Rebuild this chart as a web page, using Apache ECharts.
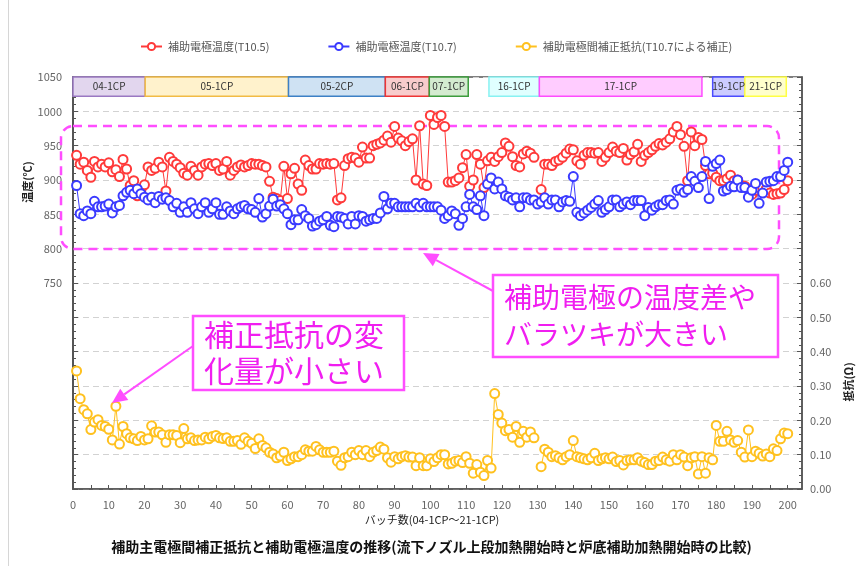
<!DOCTYPE html>
<html>
<head>
<meta charset="utf-8">
<script src="https://cdn.jsdelivr.net/npm/echarts@6/dist/echarts.min.js"></script>
<style>
html,body{margin:0;padding:0;background:#fff;}
#chart{width:863px;height:566px;}
</style>
</head>
<body>
<div id="chart"></div>
<script>
// Series names
const seriesNames = ['補助電極温度(T10.5)', '補助電極温度(T10.7)', '補助電極間補正抵抗(T10.7による補正)'];

// 補助電極温度 T10.5 (℃), batches 1..200
const tempT105 = [
  936, 923, 926, 914, 904, 927, 919, 923, 919, 925,
  912, 915, 905, 930, 916, 892, 899, 877, 885, 893,
  919, 914, 917, 926, 919, 884, 933, 927, 923, 918,
  910, 907, 920, 914, 907, 919, 923, 924, 921, 924,
  914, 916, 927, 907, 914, 919, 922, 919, 921, 924,
  923, 923, 921, 919, 898, 875, 873, 870, 920, 873,
  909, 917, 894, 885, 929, 921, 916, 916, 924, 923,
  924, 923, 924, 871, 874, 921, 931, 933, 932, 926,
  948, 932, 932, 950, 952, 954, 958, 964, 955, 978,
  961, 957, 950, 956, 960, 900, 979, 894, 892, 994,
  981, 991, 994, 978, 897, 897, 899, 903, 918, 937,
  891, 900, 937, 923, 889, 928, 933, 927, 934, 940,
  954, 949, 934, 921, 919, 938, 942, 939, 933, null,
  886, 923, 923, 921, 927, 929, 933, 939, 945, 944,
  928, 923, 936, 940, 940, 939, 940, 927, 933, 940,
  948, 942, 940, 946, 929, 937, 941, 952, 927, 936,
  940, 944, 949, 953, 951, 955, 960, 970, 978, 966,
  949, 899, 970, 950, 962, 959, 921, 909, 910, 904,
  899, 899, 902, 907, 899, 900, 892, 891, 887, 879,
  885, 889, 889, 887, 881, 879, 880, 881, 886, 899
];

// 補助電極温度 T10.7 (℃), batches 1..200
const tempT107 = [
  892, 851, 848, 855, 851, 869, 861, 861, 862, 865,
  852, 861, 863, 877, 882, 885, 880, 887, 880, 875,
  871, 875, 867, 876, 872, 874, 870, 861, 866, 853,
  861, 853, 867, 858, 851, 861, 867, 853, 858, 867,
  850, 850, 861, 855, 851, 858, 861, 863, 858, 857,
  853, 873, 846, 851, 862, 872, 862, 864, 858, 851,
  835, 842, 842, 857, 848, 844, 833, 835, 840, 842,
  847, 834, 832, 847, 846, 844, 836, 847, 836, 848,
  847, 840, 842, 844, 844, 852, 876, 858, 866, 866,
  861, 861, 861, 861, 861, 866, 861, 866, 861, 861,
  861, 861, 856, 844, 848, 855, 851, 834, 844, 861,
  879, 861, 857, 877, 848, 894, 903, 887, 897, 887,
  877, 875, 871, 874, 861, 874, 874, 871, 871, 865,
  868, 874, 865, 871, 871, 861, 868, 870, 869, 905,
  853, 848, 852, 856, 860, 865, 870, 853, 857, 861,
  871, 871, 861, 865, 868, 864, 870, 870, 870, 848,
  860, 856, 861, 864, 864, 870, 871, 865, 885, 887,
  882, 886, 905, 898, 889, 905, 927, 873, 920, 924,
  929, 884, 886, 891, 890, 900, 889, 889, 875, 885,
  895, 866, 881, 897, 898, 899, 905, 905, 914, 926
];

// 補助電極間補正抵抗 (Ω), batches 1..200
const resistance = [
  0.344, 0.263, 0.231, 0.219, 0.173, 0.195, 0.202, 0.185, 0.182, 0.174,
  0.143, 0.241, 0.131, 0.182, 0.161, 0.149, 0.146, 0.141, 0.153, 0.143,
  0.146, 0.184, 0.166, 0.166, 0.158, 0.136, 0.158, 0.158, 0.156, 0.135,
  0.176, 0.146, 0.149, 0.141, 0.143, 0.143, 0.151, 0.146, 0.153, 0.156,
  0.149, 0.147, 0.149, 0.139, 0.139, 0.141, 0.130, 0.149, 0.139, 0.133,
  0.118, 0.146, 0.127, 0.120, 0.107, 0.102, 0.091, 0.096, 0.107, 0.083,
  0.088, 0.094, 0.094, 0.100, 0.114, 0.110, 0.110, 0.124, 0.114, 0.107,
  0.107, 0.107, 0.110, 0.081, 0.069, 0.091, 0.094, 0.107, 0.100, 0.112,
  0.100, 0.112, 0.094, 0.107, 0.112, 0.122, 0.116, 0.091, 0.078, 0.094,
  0.088, 0.094, 0.097, 0.093, 0.093, 0.068, 0.091, 0.068, 0.068, 0.088,
  0.080, 0.091, 0.100, 0.100, 0.073, 0.075, 0.081, 0.083, 0.077, 0.094,
  0.075, 0.046, 0.071, 0.049, 0.039, 0.083, 0.061, 0.278, 0.217, 0.192,
  0.170, 0.173, 0.151, 0.182, 0.136, 0.168, 0.151, 0.166, 0.149, null,
  0.065, 0.116, 0.107, 0.094, 0.097, 0.091, 0.085, 0.094, 0.100, 0.141,
  0.094, 0.091, 0.088, 0.085, 0.091, 0.104, 0.083, 0.088, 0.091, 0.088,
  0.093, 0.080, 0.083, 0.070, 0.083, 0.085, 0.085, 0.091, 0.081, 0.077,
  0.071, 0.071, 0.081, 0.083, 0.093, 0.085, 0.081, 0.100, 0.085, 0.100,
  0.093, 0.068, 0.091, 0.094, 0.044, 0.094, 0.046, 0.091, 0.085, 0.185,
  0.139, 0.139, 0.168, 0.143, 0.136, 0.141, 0.107, 0.093, 0.172, 0.094,
  0.110, 0.104, 0.096, 0.102, 0.094, 0.117, 0.112, 0.146, 0.163, 0.161
];

// Campaign bands along the top of the plot (batch ranges)
const bandNames = ['04-1CP', '05-1CP', '05-2CP', '06-1CP', '07-1CP', '16-1CP', '17-1CP', '19-1CP', '21-1CP'];
const bandStart = [0, 20.2, 60.3, 87.4, 99.7, 116.4, 130.5, 179, 188];
const bandEnd   = [20.2, 60.3, 87.4, 99.7, 110.6, 130.5, 176, 188, 199.6];

// Axis tick labels
const tempTicks = [750, 800, 850, 900, 950, 1000, 1050];
const resTicks = [0.0, 0.1, 0.2, 0.3, 0.4, 0.5, 0.6];
const batchTicks = [0, 10, 20, 30, 40, 50, 60, 70, 80, 90, 100, 110, 120, 130, 140, 150, 160, 170, 180, 190, 200];

// ---- styling ----
const FONT = '"Noto Sans CJK JP", "Noto Sans", sans-serif';
const seriesColors = ['#ff3a3a', '#3a3aff', '#ffc11f'];
const bandFill   = ['#e2d6ee', '#fff2cc', '#cfe2f3', '#f8cccc', '#d4ebd0', '#e0ffff', '#ffccff', '#ccccff', '#ffffcc'];
const bandBorder = ['#9a78c2', '#f2bb45', '#3d80c6', '#ee3434', '#3c9c3c', '#88f2f2', '#ff4cff', '#4c4cff', '#ffff44'];
const MAGENTA = '#ff4dff';
const MAGENTA_TEXT = '#f01ef0';

const toPairs = arr => arr.map((v, i) => [i + 1, v === null ? '-' : v]);

const bandAreas = bandNames.map((name, i) => [
  { name: name, xAxis: bandStart[i], yAxis: 1022,
    itemStyle: { color: bandFill[i], borderColor: bandBorder[i], borderWidth: 1.5 } },
  { xAxis: bandEnd[i], yAxis: 1050 }
]);

function arrow(x1, y1, x2, y2) {
  const ang = Math.atan2(y2 - y1, x2 - x1);
  const L = 15, W = 7;
  const bx = x2 - L * Math.cos(ang), by = y2 - L * Math.sin(ang);
  const px = -Math.sin(ang) * W, py = Math.cos(ang) * W;
  return [
    { type: 'line', shape: { x1: x1, y1: y1, x2: bx, y2: by },
      style: { stroke: MAGENTA, lineWidth: 2 }, z: 110 },
    { type: 'polygon', shape: { points: [[x2, y2], [bx + px, by + py], [bx - px, by - py]] },
      style: { fill: MAGENTA }, z: 110 }
  ];
}

const chart = echarts.init(document.getElementById('chart'), null, { renderer: 'canvas' });

const option = {
  animation: false,
  backgroundColor: '#fff',
  textStyle: { fontFamily: FONT },
  title: {
    text: '補助主電極間補正抵抗と補助電極温度の推移(流下ノズル上段加熱開始時と炉底補助加熱開始時の比較)',
    left: 'center', top: 535,
    textStyle: { fontSize: 14, fontWeight: 'bold', color: '#111', fontFamily: FONT }
  },
  legend: {
    left: 135, top: 36,
    itemWidth: 21, itemHeight: 9, itemGap: 58,
    textStyle: { fontSize: 11, color: '#555', fontFamily: FONT, padding: [0, 0, 0, 1] },
    data: seriesNames
  },
  grid: {
    left: 73, right: 61, top: 77, bottom: 77,
    show: true, borderColor: '#555', borderWidth: 1.5, backgroundColor: 'transparent'
  },
  xAxis: {
    type: 'value', min: 0, max: 204, interval: 5,
    axisLine: { show: true, lineStyle: { color: '#555', width: 1.5 } },
    axisTick: { show: true, inside: true, length: 4, lineStyle: { color: '#555' } },
    axisLabel: {
      color: '#666', fontSize: 11, margin: 10, showMaxLabel: false,
      formatter: v => (batchTicks.indexOf(v) >= 0 ? String(v) : '')
    },
    splitLine: { show: false }
  },
  yAxis: [
    {
      type: 'value', min: 450, max: 1050, interval: 50, position: 'left',
      axisLine: { show: true, lineStyle: { color: '#555', width: 2 } },
      axisTick: { show: true, inside: true, length: 5, lineStyle: { color: '#555' } },
      minorTick: { show: true, splitNumber: 5, length: 3, lineStyle: { color: '#555' } },
      axisLabel: {
        color: '#666', fontSize: 11, margin: 11,
        formatter: v => (tempTicks.indexOf(v) >= 0 ? String(v) : '')
      },
      splitLine: { show: true, lineStyle: { color: '#d2d2d2', type: [6, 4], width: 1 } }
    },
    {
      type: 'value', min: 0, max: 1.2, interval: 0.1, position: 'right',
      axisLine: { show: true, lineStyle: { color: '#555', width: 1.5 } },
      axisTick: { show: true, inside: true, length: 5, lineStyle: { color: '#555' } },
      minorTick: { show: true, splitNumber: 5, length: 3, lineStyle: { color: '#555' } },
      axisLabel: {
        color: '#666', fontSize: 11, margin: 8,
        formatter: v => {
          const r = Math.round(v * 10) / 10;
          return resTicks.indexOf(r) >= 0 ? r.toFixed(2) : '';
        }
      },
      splitLine: { show: false }
    }
  ],
  series: [
    {
      name: seriesNames[0], type: 'line', yAxisIndex: 0,
      data: toPairs(tempT105),
      symbol: 'emptyCircle', symbolSize: 9,
      lineStyle: { color: seriesColors[0], width: 1 },
      itemStyle: { color: seriesColors[0], borderWidth: 1 },
      markArea: {
        silent: true,
        label: { show: true, position: 'inside', color: '#333', fontSize: 10, fontFamily: FONT },
        data: bandAreas
      }
    },
    {
      name: seriesNames[1], type: 'line', yAxisIndex: 0,
      data: toPairs(tempT107),
      symbol: 'emptyCircle', symbolSize: 9,
      lineStyle: { color: seriesColors[1], width: 1 },
      itemStyle: { color: seriesColors[1], borderWidth: 1 }
    },
    {
      name: seriesNames[2], type: 'line', yAxisIndex: 1,
      data: toPairs(resistance),
      symbol: 'emptyCircle', symbolSize: 9,
      lineStyle: { color: seriesColors[2], width: 1 },
      itemStyle: { color: seriesColors[2], borderWidth: 1 }
    }
  ],
  graphic: [
    // page frame line
    { type: 'line', shape: { x1: 8.5, y1: 0, x2: 8.5, y2: 566 }, style: { stroke: '#d6d6d6', lineWidth: 1 }, z: 0 },
    // axis titles
    { type: 'text', x: 28, y: 182, rotation: Math.PI / 2,
      style: { text: '温度(℃)', font: 'bold 11px ' + FONT, fill: '#222', align: 'center', verticalAlign: 'middle' } },
    { type: 'text', x: 849, y: 382, rotation: Math.PI / 2,
      style: { text: '抵抗(Ω)', font: 'bold 11px ' + FONT, fill: '#222', align: 'center', verticalAlign: 'middle' } },
    { type: 'text', x: 432, y: 520,
      style: { text: 'バッチ数(04-1CP〜21-1CP)', font: '11px ' + FONT, fill: '#222', align: 'center', verticalAlign: 'middle' } },
    // dashed highlight around the temperature traces
    { type: 'rect', shape: { x: 61, y: 126, width: 718, height: 123, r: 12 },
      style: { fill: 'none', stroke: MAGENTA, lineWidth: 2.5, lineDash: [9, 6] }, z: 1 },
    // callout: temperature spread
    { type: 'rect', shape: { x: 493, y: 275, width: 285, height: 82 },
      style: { fill: '#fff', stroke: MAGENTA, lineWidth: 2.5 }, z: 105 },
    { type: 'text', x: 504, y: 279,
      style: { text: '補助電極の温度差や\nバラツキが大きい', font: '28px ' + FONT, fill: MAGENTA_TEXT, lineHeight: 37 }, z: 106 },
    ...arrow(493, 291, 423, 253),
    // callout: resistance change
    { type: 'rect', shape: { x: 193, y: 316, width: 211, height: 74 },
      style: { fill: '#fff', stroke: MAGENTA, lineWidth: 2.5 }, z: 105 },
    { type: 'text', x: 204, y: 317,
      style: { text: '補正抵抗の変\n化量が小さい', font: '30px ' + FONT, fill: MAGENTA_TEXT, lineHeight: 36 }, z: 106 },
    ...arrow(193, 346, 112, 403)
  ]
};

chart.setOption(option);
</script>
</body>
</html>
